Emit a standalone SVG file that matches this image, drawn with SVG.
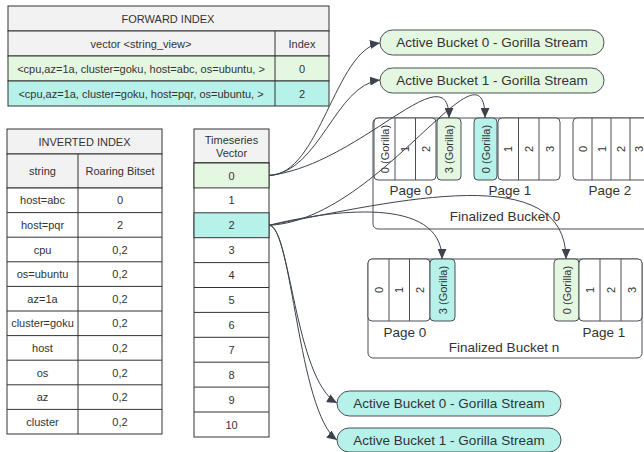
<svg xmlns="http://www.w3.org/2000/svg" width="644" height="452" viewBox="0 0 644 452">
<style>
text{font-family:"Liberation Sans",Arial,sans-serif;fill:#333;text-anchor:middle;dominant-baseline:central}
.t{font-size:11px}
.b{font-size:13.5px}
.cell{stroke:#333;stroke-width:1}
.bk{fill:#fff;stroke:#4a4f57;stroke-width:1}
.w{fill:#fff}
.g{fill:#f2f2f3}
.gr{fill:#e4f8e1}
.cy{fill:#b6f2ea}
.con{fill:none;stroke:#3d434c;stroke-width:1;marker-end:url(#arr)}
</style>
<defs>
<marker id="arr" markerUnits="userSpaceOnUse" markerWidth="10" markerHeight="9" refX="10" refY="4.5" orient="auto">
<path d="M0,0 L10,4.5 L0,9 z" fill="#3d434c"/>
</marker>
</defs>
<rect width="644" height="452" fill="#fff"/>

<g id="forward-index">
<rect class="cell g" x="8" y="6" width="321" height="25"/>
<rect class="cell g" x="8" y="31" width="321" height="25"/>
<rect class="cell gr" x="8" y="56" width="321" height="25"/>
<rect class="cell cy" x="8" y="81" width="321" height="25"/>
<line class="cell" x1="275" y1="31" x2="275" y2="106"/>
<text class="t" x="168" y="18.5">FORWARD INDEX</text>
<text class="t" x="141" y="43.5">vector &lt;string_view&gt;</text>
<text class="t" x="302" y="43.5">Index</text>
<text class="t" x="141" y="68.5">&lt;cpu,az=1a, cluster=goku, host=abc, os=ubuntu, &gt;</text>
<text class="t" x="302" y="68.5">0</text>
<text class="t" x="141" y="93.5">&lt;cpu,az=1a, cluster=goku, host=pqr, os=ubuntu, &gt;</text>
<text class="t" x="302" y="93.5">2</text>
</g>

<g id="inverted-index">
<rect class="cell g" x="7" y="129" width="155" height="25"/>
<rect class="cell g" x="7" y="154" width="155" height="34"/>
<rect class="cell w" x="7" y="188" width="155" height="246"/>
<line class="cell" x1="78" y1="154" x2="78" y2="434"/>
<path class="cell" fill="none" d="M7,212.6H162M7,237.2H162M7,261.8H162M7,286.4H162M7,311H162M7,335.6H162M7,360.2H162M7,384.8H162M7,409.4H162"/>
<text class="t" x="84.5" y="141.5">INVERTED INDEX</text>
<text class="t" x="42.5" y="171">string</text>
<text class="t" x="120" y="171">Roaring Bitset</text>
<text class="t" x="42.5" y="200.3">host=abc</text><text class="t" x="120" y="200.3">0</text>
<text class="t" x="42.5" y="224.9">host=pqr</text><text class="t" x="120" y="224.9">2</text>
<text class="t" x="42.5" y="249.5">cpu</text><text class="t" x="120" y="249.5">0,2</text>
<text class="t" x="42.5" y="274.1">os=ubuntu</text><text class="t" x="120" y="274.1">0,2</text>
<text class="t" x="42.5" y="298.7">az=1a</text><text class="t" x="120" y="298.7">0,2</text>
<text class="t" x="42.5" y="323.3">cluster=goku</text><text class="t" x="120" y="323.3">0,2</text>
<text class="t" x="42.5" y="347.9">host</text><text class="t" x="120" y="347.9">0,2</text>
<text class="t" x="42.5" y="372.5">os</text><text class="t" x="120" y="372.5">0,2</text>
<text class="t" x="42.5" y="397.1">az</text><text class="t" x="120" y="397.1">0,2</text>
<text class="t" x="42.5" y="421.7">cluster</text><text class="t" x="120" y="421.7">0,2</text>
</g>

<g id="timeseries-vector">
<rect class="cell g" x="194" y="129" width="75" height="34"/>
<rect class="cell w" x="194" y="163" width="75" height="274"/>
<rect class="cell gr" x="194" y="163" width="75" height="24.9"/>
<rect class="cell cy" x="194" y="212.8" width="75" height="24.9"/>
<path class="cell" fill="none" d="M194,262.6H269M194,287.5H269M194,312.4H269M194,337.3H269M194,362.2H269M194,387.1H269M194,412H269"/>
<text class="t" x="231.5" y="140">Timeseries</text>
<text class="t" x="231.5" y="152.5">Vector</text>
<text class="t" x="231.5" y="175.5">0</text>
<text class="t" x="231.5" y="200.4">1</text>
<text class="t" x="231.5" y="225.3">2</text>
<text class="t" x="231.5" y="250.2">3</text>
<text class="t" x="231.5" y="275.1">4</text>
<text class="t" x="231.5" y="300">5</text>
<text class="t" x="231.5" y="324.9">6</text>
<text class="t" x="231.5" y="349.8">7</text>
<text class="t" x="231.5" y="374.7">8</text>
<text class="t" x="231.5" y="399.6">9</text>
<text class="t" x="231.5" y="424.5">10</text>
</g>

<g id="active-bucket-0-top">
<rect class="bk gr" x="380" y="30" width="224" height="25" rx="12.5"/>
<text class="b" x="492" y="42.5">Active Bucket 0 - Gorilla Stream</text>
</g>
<g id="active-bucket-1-top">
<rect class="bk gr" x="380" y="68" width="224" height="25" rx="12.5"/>
<text class="b" x="492" y="80.5">Active Bucket 1 - Gorilla Stream</text>
</g>

<g id="finalized-bucket-0">
<rect class="bk" x="373" y="118" width="300" height="111" rx="5"/>
<rect class="bk" x="374" y="118" width="62" height="62" rx="4"/>
<path class="bk" d="M395,118V180M415.5,118V180"/>
<rect class="bk gr" x="437" y="118" width="24" height="62" rx="4"/>
<rect class="bk cy" x="474" y="118" width="23" height="62" rx="4"/>
<rect class="bk" x="498" y="118" width="62" height="62" rx="4"/>
<path class="bk" d="M518.5,118V180M539,118V180"/>
<rect class="bk" x="573" y="118" width="90" height="62" rx="4"/>
<path class="bk" d="M592,118V180M611,118V180M630,118V180"/>
<text class="t" transform="translate(384.5,149) rotate(-90)">0 (Gorilla)</text>
<text class="t" transform="translate(405,149) rotate(-90)">1</text>
<text class="t" transform="translate(425.5,149) rotate(-90)">2</text>
<text class="t" transform="translate(449,149) rotate(-90)">3 (Gorilla)</text>
<text class="t" transform="translate(485.5,149) rotate(-90)">0 (Gorilla)</text>
<text class="t" transform="translate(508,149) rotate(-90)">1</text>
<text class="t" transform="translate(529,149) rotate(-90)">2</text>
<text class="t" transform="translate(549.5,149) rotate(-90)">3</text>
<text class="t" transform="translate(582.5,149) rotate(-90)">0</text>
<text class="t" transform="translate(601.5,149) rotate(-90)">1</text>
<text class="t" transform="translate(620.5,149) rotate(-90)">2</text>
<text class="t" transform="translate(639,149) rotate(-90)">3</text>
<text class="b" x="411" y="190">Page 0</text>
<text class="b" x="510" y="190">Page 1</text>
<text class="b" x="610" y="190">Page 2</text>
<text class="b" x="505" y="216">Finalized Bucket 0</text>
</g>

<g id="finalized-bucket-n">
<rect class="bk" x="368" y="259" width="274" height="99" rx="5"/>
<rect class="bk" x="368" y="259" width="62" height="62" rx="4"/>
<path class="bk" d="M389,259V321M409.5,259V321"/>
<rect class="bk cy" x="430" y="259" width="25" height="62" rx="4"/>
<rect class="bk gr" x="554" y="259" width="25" height="62" rx="4"/>
<rect class="bk" x="579" y="259" width="63" height="62" rx="4"/>
<path class="bk" d="M600,259V321M621,259V321"/>
<text class="t" transform="translate(378.5,290) rotate(-90)">0</text>
<text class="t" transform="translate(399,290) rotate(-90)">1</text>
<text class="t" transform="translate(420,290) rotate(-90)">2</text>
<text class="t" transform="translate(442.5,290) rotate(-90)">3 (Gorilla)</text>
<text class="t" transform="translate(566.5,290) rotate(-90)">0 (Gorilla)</text>
<text class="t" transform="translate(589.5,290) rotate(-90)">1</text>
<text class="t" transform="translate(610.5,290) rotate(-90)">2</text>
<text class="t" transform="translate(631.5,290) rotate(-90)">3</text>
<text class="b" x="405" y="332">Page 0</text>
<text class="b" x="604" y="332">Page 1</text>
<text class="b" x="504" y="347">Finalized Bucket n</text>
</g>

<g id="active-bucket-0-bottom">
<rect class="bk cy" x="337" y="391" width="224" height="25" rx="12.5"/>
<text class="b" x="449" y="403.5">Active Bucket 0 - Gorilla Stream</text>
</g>
<g id="active-bucket-1-bottom">
<rect class="bk cy" x="337" y="428" width="224" height="24" rx="12"/>
<text class="b" x="449" y="440">Active Bucket 1 - Gorilla Stream</text>
</g>

<g id="connectors">
<path class="con" d="M269,175.5 C320,175 335,50 380,43"/>
<path class="con" d="M269,175.5 C320,172 335,85 380,80"/>
<path class="con" d="M269,175.5 C360,165 449,50 449,118"/>
<path class="con" d="M269,225.3 C380,220 485,30 485,118"/>
<path class="con" d="M269,225.3 C330,210 442,195 442,259"/>
<path class="con" d="M269,225.3 C400,200 566,160 566,259"/>
<path class="con" d="M269,225.3 C290,225 295,380 337,403"/>
<path class="con" d="M269,225.3 C292,225 298,412 337,440"/>
</g>
</svg>
